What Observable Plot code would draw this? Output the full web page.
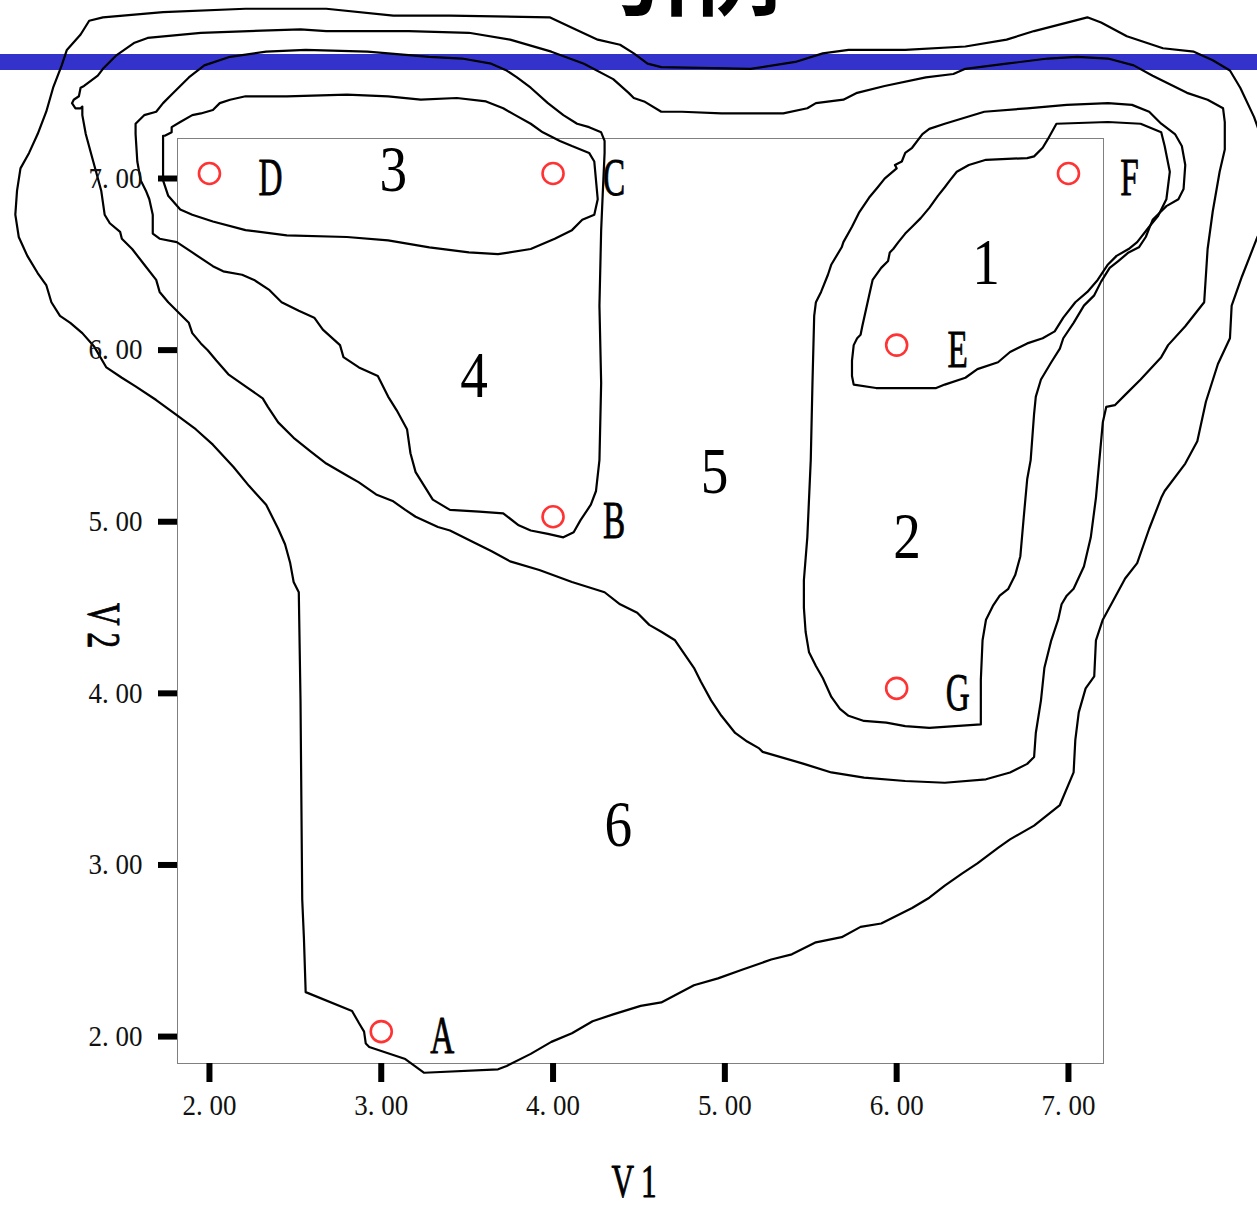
<!DOCTYPE html>
<html>
<head>
<meta charset="utf-8">
<script src="https://cdn.jsdelivr.net/npm/d3@7"></script>
<script src="https://cdn.jsdelivr.net/npm/@observablehq/plot@0.6"></script>
<style>
  html, body { margin: 0; padding: 0; background: #fff; overflow: hidden; }
  #page { position: relative; width: 1257px; height: 1206px; overflow: hidden; }
  #band { position: absolute; left: 0; top: 54px; width: 1257px; height: 16px; background: #3333cc; }
  #title { position: absolute; left: 605px; top: -74px; font: bold 88px/88px "Noto Sans CJK SC"; color: #000; white-space: nowrap; }
  #chart { position: absolute; left: 0; top: 0; }
</style>
</head>
<body>
<div id="page">
  <div id="band"></div>
  <div id="title">引例</div>
  <div id="chart"></div>
</div>
<script>
// Observations
const pointNames = ["A", "B", "C", "D", "E", "F", "G"];
const pointV1 = [3, 4, 4, 2, 6, 7, 6];
const pointV2 = [2, 5, 7, 7, 6, 7, 4];

// Axis ticks
const axisTicks = [2, 3, 4, 5, 6, 7];

// Cluster numbers and where each is written
const clusterIds = ["1", "2", "3", "4", "5", "6"];
const clusterLabelV1 = [6.52, 6.06, 3.07, 3.54, 4.94, 4.38];
const clusterLabelV2 = [6.48, 4.88, 7.02, 5.82, 5.26, 3.20];

// Hand-drawn cluster outlines, as [V1, V2] vertices
const cluster1Outline = [[6.88,7.20],[6.93,7.29],[7.23,7.30],[7.42,7.29],[7.54,7.24],[7.56,7.16],[7.59,7.01],[7.57,6.85],[7.52,6.75],[7.47,6.69],[7.40,6.60],[7.35,6.56],[7.28,6.52],[7.23,6.47],[7.17,6.38],[7.11,6.31],[7.04,6.25],[6.97,6.16],[6.92,6.08],[6.85,6.04],[6.76,6.01],[6.66,5.96],[6.59,5.90],[6.47,5.86],[6.40,5.81],[6.28,5.77],[6.23,5.75],[6.05,5.75],[5.88,5.75],[5.75,5.77],[5.74,5.82],[5.74,5.91],[5.75,6.00],[5.77,6.04],[5.79,6.06],[5.80,6.11],[5.82,6.20],[5.84,6.29],[5.86,6.38],[5.91,6.45],[5.95,6.49],[5.96,6.54],[5.98,6.56],[6.01,6.60],[6.05,6.65],[6.09,6.69],[6.14,6.74],[6.19,6.80],[6.24,6.87],[6.28,6.92],[6.31,6.96],[6.35,7.01],[6.42,7.05],[6.52,7.08],[6.76,7.09],[6.80,7.10],[6.85,7.15]];

const cluster2Outline = [[5.52,6.17],[5.53,6.25],[5.56,6.31],[5.60,6.41],[5.62,6.47],[5.68,6.57],[5.69,6.60],[5.74,6.69],[5.78,6.77],[5.84,6.86],[5.89,6.92],[5.93,6.97],[6.00,7.03],[5.99,7.05],[6.03,7.07],[6.05,7.12],[6.09,7.15],[6.15,7.23],[6.19,7.26],[6.28,7.29],[6.51,7.36],[6.76,7.38],[6.99,7.40],[7.23,7.41],[7.37,7.40],[7.47,7.36],[7.54,7.29],[7.62,7.23],[7.66,7.16],[7.68,7.05],[7.67,6.91],[7.64,6.85],[7.57,6.81],[7.54,6.78],[7.49,6.73],[7.47,6.68],[7.45,6.63],[7.41,6.57],[7.35,6.54],[7.29,6.49],[7.24,6.45],[7.19,6.37],[7.15,6.29],[7.09,6.23],[7.03,6.13],[6.97,6.04],[6.95,5.98],[6.90,5.90],[6.84,5.80],[6.81,5.70],[6.80,5.60],[6.78,5.33],[6.76,5.22],[6.74,5.00],[6.72,4.77],[6.69,4.66],[6.65,4.58],[6.60,4.54],[6.56,4.48],[6.52,4.40],[6.50,4.28],[6.49,4.05],[6.49,3.79],[6.19,3.77],[6.05,3.78],[5.94,3.80],[5.81,3.81],[5.72,3.84],[5.67,3.88],[5.62,3.95],[5.57,4.06],[5.53,4.13],[5.49,4.21],[5.47,4.33],[5.46,4.47],[5.46,4.63],[5.48,4.88],[5.50,5.33],[5.51,5.78]];

const cluster3Outline = [[1.73,7.22],[1.73,7.12],[1.73,6.96],[1.76,6.87],[1.83,6.79],[1.90,6.76],[2.02,6.72],[2.21,6.67],[2.45,6.64],[2.80,6.63],[3.04,6.61],[3.28,6.57],[3.51,6.54],[3.68,6.53],[3.87,6.56],[4.01,6.62],[4.11,6.67],[4.17,6.73],[4.24,6.76],[4.26,6.85],[4.25,6.96],[4.24,7.07],[4.21,7.12],[4.11,7.16],[4.04,7.19],[3.94,7.24],[3.87,7.29],[3.78,7.34],[3.71,7.38],[3.61,7.42],[3.44,7.44],[3.23,7.43],[3.04,7.45],[2.80,7.46],[2.45,7.45],[2.21,7.45],[2.12,7.43],[2.06,7.41],[2.02,7.37],[1.95,7.35],[1.90,7.34],[1.83,7.30],[1.78,7.27],[1.78,7.24],[1.74,7.22]];

const cluster4Outline = [[1.57,7.29],[1.62,7.34],[1.69,7.36],[1.73,7.41],[1.78,7.46],[1.88,7.56],[1.97,7.63],[2.12,7.68],[2.33,7.71],[2.56,7.72],[2.92,7.71],[3.28,7.68],[3.47,7.67],[3.64,7.64],[3.73,7.60],[3.79,7.56],[3.87,7.50],[3.97,7.41],[4.06,7.34],[4.14,7.29],[4.21,7.27],[4.28,7.24],[4.30,7.19],[4.30,7.12],[4.29,6.90],[4.28,6.67],[4.27,6.23],[4.28,5.78],[4.27,5.33],[4.25,5.15],[4.22,5.07],[4.16,4.98],[4.12,4.91],[4.06,4.88],[3.97,4.90],[3.87,4.92],[3.80,4.95],[3.71,5.02],[3.57,5.03],[3.40,5.04],[3.30,5.10],[3.25,5.18],[3.20,5.26],[3.17,5.37],[3.15,5.51],[3.09,5.62],[3.04,5.70],[2.98,5.82],[2.87,5.87],[2.78,5.93],[2.76,6.00],[2.66,6.09],[2.61,6.16],[2.52,6.20],[2.42,6.25],[2.35,6.32],[2.26,6.38],[2.19,6.41],[2.08,6.43],[2.02,6.46],[1.90,6.54],[1.81,6.60],[1.71,6.62],[1.67,6.65],[1.67,6.76],[1.65,6.85],[1.63,6.90],[1.60,6.96],[1.58,7.07],[1.57,7.23]];

const cluster5Outline = [[1.26,7.39],[1.25,7.38],[1.22,7.38],[1.20,7.41],[1.21,7.43],[1.24,7.45],[1.25,7.50],[1.27,7.51],[1.35,7.57],[1.38,7.61],[1.46,7.69],[1.56,7.76],[1.64,7.79],[1.95,7.82],[2.53,7.84],[2.68,7.83],[3.16,7.83],[3.51,7.82],[3.75,7.78],[3.99,7.71],[4.18,7.64],[4.35,7.55],[4.44,7.47],[4.47,7.44],[4.53,7.42],[4.63,7.36],[4.75,7.36],[4.98,7.35],[5.34,7.35],[5.48,7.38],[5.53,7.41],[5.69,7.43],[5.77,7.47],[5.93,7.51],[6.17,7.56],[6.33,7.58],[6.40,7.61],[6.64,7.64],[6.88,7.67],[7.05,7.68],[7.23,7.67],[7.38,7.63],[7.49,7.57],[7.59,7.52],[7.69,7.47],[7.81,7.43],[7.90,7.38],[7.91,7.30],[7.91,7.14],[7.88,7.01],[7.84,6.78],[7.81,6.56],[7.79,6.25],[7.68,6.11],[7.58,6.00],[7.54,5.93],[7.42,5.80],[7.33,5.71],[7.27,5.65],[7.22,5.64],[7.20,5.55],[7.18,5.33],[7.16,5.11],[7.13,4.88],[7.09,4.71],[7.03,4.58],[6.99,4.54],[6.96,4.49],[6.94,4.40],[6.90,4.28],[6.86,4.12],[6.84,3.93],[6.81,3.74],[6.80,3.60],[6.76,3.56],[6.66,3.51],[6.52,3.47],[6.28,3.45],[6.05,3.46],[5.81,3.48],[5.62,3.51],[5.46,3.56],[5.22,3.63],[5.20,3.65],[5.13,3.69],[5.06,3.74],[4.98,3.84],[4.92,3.93],[4.86,4.04],[4.82,4.12],[4.71,4.28],[4.63,4.33],[4.56,4.37],[4.49,4.44],[4.39,4.49],[4.30,4.56],[4.11,4.62],[3.92,4.69],[3.75,4.74],[3.64,4.80],[3.54,4.85],[3.40,4.92],[3.33,4.94],[3.20,5.00],[3.14,5.04],[3.07,5.09],[2.97,5.13],[2.87,5.20],[2.80,5.24],[2.68,5.31],[2.59,5.38],[2.49,5.46],[2.40,5.55],[2.34,5.64],[2.31,5.69],[2.21,5.76],[2.11,5.83],[2.04,5.91],[1.99,5.97],[1.95,6.01],[1.90,6.07],[1.88,6.13],[1.83,6.18],[1.76,6.25],[1.71,6.31],[1.69,6.38],[1.62,6.47],[1.55,6.56],[1.49,6.62],[1.48,6.66],[1.42,6.71],[1.39,6.76],[1.37,6.90],[1.34,7.01],[1.31,7.12],[1.28,7.23],[1.26,7.34]];

const cluster6Outline = [[1.30,7.89],[1.38,7.91],[1.73,7.94],[2.21,7.96],[2.68,7.96],[3.07,7.92],[3.40,7.92],[3.98,7.91],[4.11,7.85],[4.26,7.78],[4.39,7.75],[4.47,7.70],[4.55,7.64],[4.63,7.62],[5.15,7.61],[5.41,7.65],[5.57,7.70],[5.72,7.72],[6.05,7.72],[6.40,7.74],[6.64,7.78],[6.80,7.83],[7.11,7.91],[7.19,7.88],[7.34,7.80],[7.55,7.73],[7.73,7.71],[7.84,7.66],[7.94,7.60],[8.00,7.50],[8.08,7.33],[8.13,7.19],[8.20,6.96],[8.16,6.73],[8.10,6.63],[8.01,6.40],[7.95,6.23],[7.94,6.04],[7.87,5.89],[7.80,5.67],[7.75,5.44],[7.68,5.31],[7.56,5.15],[7.54,5.11],[7.47,4.93],[7.40,4.73],[7.33,4.64],[7.26,4.51],[7.20,4.40],[7.16,4.28],[7.15,4.07],[7.10,4.00],[7.06,3.86],[7.04,3.70],[7.03,3.51],[6.95,3.32],[6.80,3.20],[6.66,3.12],[6.59,3.07],[6.47,2.98],[6.38,2.92],[6.28,2.85],[6.19,2.78],[6.09,2.72],[5.91,2.63],[5.79,2.61],[5.68,2.55],[5.53,2.52],[5.39,2.45],[5.27,2.42],[5.10,2.36],[4.96,2.31],[4.82,2.27],[4.63,2.17],[4.51,2.15],[4.35,2.10],[4.23,2.06],[4.11,1.99],[3.99,1.94],[3.87,1.87],[3.73,1.80],[3.68,1.78],[3.25,1.76],[3.14,1.84],[2.93,1.91],[2.91,1.93],[2.90,2.00],[2.87,2.05],[2.83,2.12],[2.56,2.23],[2.55,2.54],[2.54,2.77],[2.53,3.93],[2.52,4.56],[2.49,4.62],[2.47,4.73],[2.44,4.84],[2.40,4.93],[2.33,5.07],[2.23,5.18],[2.14,5.29],[2.02,5.42],[1.92,5.51],[1.80,5.60],[1.69,5.68],[1.57,5.76],[1.49,5.81],[1.40,5.87],[1.33,5.99],[1.26,6.07],[1.19,6.13],[1.13,6.17],[1.08,6.25],[1.05,6.35],[1.00,6.42],[0.94,6.52],[0.89,6.63],[0.87,6.76],[0.88,6.90],[0.90,7.03],[0.95,7.12],[1.00,7.23],[1.05,7.36],[1.09,7.50],[1.14,7.63],[1.17,7.72],[1.25,7.81]];

// Tables for the marks
const points = pointNames.map((name, i) => ({name, V1: pointV1[i], V2: pointV2[i]}));
const clusterLabels = clusterIds.map((id, i) => ({id, V1: clusterLabelV1[i], V2: clusterLabelV2[i]}));
const outlines = [cluster1Outline, cluster2Outline, cluster3Outline, cluster4Outline, cluster5Outline, cluster6Outline]
  .flatMap((pts, i) => pts.map(([v1, v2]) => ({cluster: clusterIds[i], V1: v1, V2: v2})));

const chart = Plot.plot({
  width: 1257,
  height: 1206,
  marginLeft: 177,
  marginRight: 154,
  marginTop: 138,
  marginBottom: 143,
  x: {domain: [1.814, 7.204]},
  y: {domain: [1.814, 7.204]},
  style: {background: "transparent", fontFamily: "'Liberation Serif', serif", overflow: "hidden"},
  marks: [
    Plot.frame({stroke: "#808080", strokeWidth: 1}),
    Plot.line(outlines, {x: "V1", y: "V2", z: "cluster", curve: "linear-closed", stroke: "#000", strokeWidth: 2.2, strokeLinejoin: "round"}),
    Plot.dot(points, {x: "V1", y: "V2", r: 10.5, stroke: "#ff3333", strokeWidth: 2.6, fill: "none"}),
    Plot.text(points, {x: "V1", y: "V2", text: "name", dx: 61, dy: 5, fontSize: 52, fill: "#000",
      stroke: "#000", strokeWidth: 0.8, ariaDescription: "point names"}),
    Plot.text(clusterLabels, {x: "V1", y: "V2", text: "id", fontSize: 65, fill: "#000", ariaDescription: "cluster numbers"}),
    Plot.axisX({ticks: axisTicks, tickSize: 19, strokeWidth: 6, tickPadding: 12, fontSize: 29, fill: "#111",
      tickFormat: d => d.toFixed(2).replace(".", ". "), label: null}),
    Plot.axisY({ticks: axisTicks, tickSize: 19, strokeWidth: 6, tickPadding: 16, fontSize: 29, fill: "#111", dy: 5,
      tickFormat: d => d.toFixed(2).replace(".", ". "), label: null}),
    Plot.text(["V1"], {text: d => d, frameAnchor: "bottom", dx: -3, dy: 133, fontSize: 46, fill: "#000",
      stroke: "#000", strokeWidth: 0.9, ariaDescription: "x title"}),
    Plot.text(["V2"], {text: d => d, frameAnchor: "left", dx: -75, dy: 2, rotate: 90, fontSize: 46, fill: "#000",
      stroke: "#000", strokeWidth: 0.9, ariaDescription: "y title"})
  ]
});

document.getElementById("chart").appendChild(chart);

// Narrow the serif glyphs horizontally, about each label's own anchor
function squeeze(selector, sx) {
  const isNum = v => v !== null && /^-?[\d.]+$/.test(v);
  chart.querySelectorAll(selector).forEach(el => {
    let t = el.getAttribute("transform") || "";
    const x = el.getAttribute("x"), y = el.getAttribute("y");
    if (isNum(x) || isNum(y)) {
      t += ` translate(${isNum(x) ? x : 0},${isNum(y) ? y : 0})`;
      if (isNum(x)) el.removeAttribute("x");
      if (isNum(y)) el.removeAttribute("y");
    }
    el.setAttribute("transform", `${t} scale(${sx},1)`.trim());
  });
}
squeeze('g[aria-description="point names"] text', 0.64);
squeeze('g[aria-description="cluster numbers"] text', 0.85);
squeeze('g[aria-description="x title"] text', 0.68);
squeeze('g[aria-description="y title"] text', 0.68);
squeeze('g[aria-label="x-axis tick label"] text, g[aria-label="y-axis tick label"] text', 0.93);
chart.querySelectorAll('g[aria-description="x title"] text, g[aria-description="y title"] text')
  .forEach(el => el.style.letterSpacing = "10px");
</script>
</body>
</html>
